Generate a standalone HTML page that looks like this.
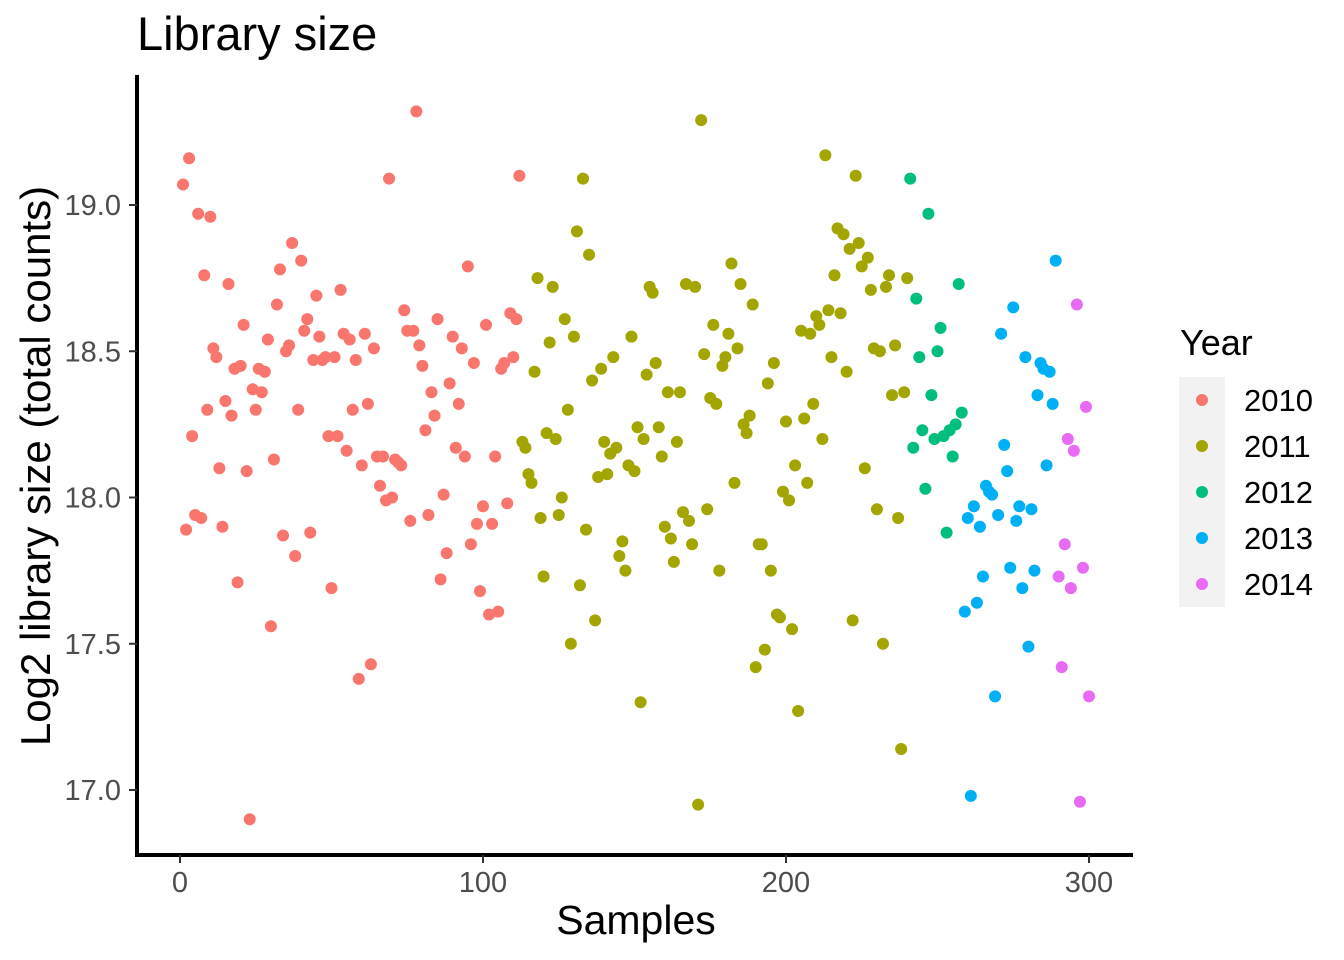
<!DOCTYPE html>
<html><head><meta charset="utf-8"><style>
html,body{margin:0;padding:0;background:#fff;}
svg{display:block;font-family:"Liberation Sans",Arial,sans-serif;}
</style></head><body>
<svg id="chart" width="1344" height="960" viewBox="0 0 1344 960">
<text x="137" y="50" font-size="47" fill="#000">Library size</text>
<g id="points"></g>
<g id="axes"></g>
<text transform="translate(50,466) rotate(-90)" text-anchor="middle" font-size="42" fill="#000">Log2 library size (total counts)</text>
<text x="636" y="934" text-anchor="middle" font-size="41" fill="#000">Samples</text>
<g id="legend">
<text x="1180" y="355" font-size="36" fill="#000">Year</text>
<rect x="1179" y="377" width="46" height="230" fill="#f2f2f2"/>
</g>
</svg>
<script>
const yearLabels = ["2010","2011","2012","2013","2014"];
const yearColors = ["#F8766D","#A3A500","#00BF7D","#00B0F6","#E76BF3"];
const yearEnds = [112,240,258,289,300];
const xTicks = [0,100,200,300];
const yTicks = [17.0,17.5,18.0,18.5,19.0];
const yTickLabels = ["17.0","17.5","18.0","18.5","19.0"];
const logSize = [
19.07,17.89,19.16,18.21,17.94,18.97,17.93,18.76,18.30,18.96,18.51,18.48,18.10,17.90,18.33,18.73,18.28,18.44,17.71,18.45,
18.59,18.09,16.90,18.37,18.30,18.44,18.36,18.43,18.54,17.56,18.13,18.66,18.78,17.87,18.50,18.52,18.87,17.80,18.30,18.81,
18.57,18.61,17.88,18.47,18.69,18.55,18.47,18.48,18.21,17.69,18.48,18.21,18.71,18.56,18.16,18.54,18.30,18.47,17.38,18.11,
18.56,18.32,17.43,18.51,18.14,18.04,18.14,17.99,19.09,18.00,18.13,18.12,18.11,18.64,18.57,17.92,18.57,19.32,18.52,18.45,
18.23,17.94,18.36,18.28,18.61,17.72,18.01,17.81,18.39,18.55,18.17,18.32,18.51,18.14,18.79,17.84,18.46,17.91,17.68,17.97,
18.59,17.60,17.91,18.14,17.61,18.44,18.46,17.98,18.63,18.48,18.61,19.10,
18.19,18.17,18.08,18.05,18.43,18.75,17.93,17.73,18.22,18.53,18.72,18.20,17.94,18.00,18.61,18.30,17.50,18.55,18.91,17.70,
19.09,17.89,18.83,18.40,17.58,18.07,18.44,18.19,18.08,18.15,18.48,18.17,17.80,17.85,17.75,18.11,18.55,18.09,18.24,17.30,
18.20,18.42,18.72,18.70,18.46,18.24,18.14,17.90,18.36,17.86,17.78,18.19,18.36,17.95,18.73,17.92,17.84,18.72,16.95,19.29,
18.49,17.96,18.34,18.59,18.32,17.75,18.45,18.48,18.56,18.80,18.05,18.51,18.73,18.25,18.22,18.28,18.66,17.42,17.84,17.84,
17.48,18.39,17.75,18.46,17.60,17.59,18.02,18.26,17.99,17.55,18.11,17.27,18.57,18.27,18.05,18.56,18.32,18.62,18.59,18.20,
19.17,18.64,18.48,18.76,18.92,18.63,18.90,18.43,18.85,17.58,19.10,18.87,18.79,18.10,18.82,18.71,18.51,17.96,18.50,17.50,
18.72,18.76,18.35,18.52,17.93,17.14,18.36,18.75,
19.09,18.17,18.68,18.48,18.23,18.03,18.97,18.35,18.20,18.50,18.58,18.21,17.88,18.23,18.14,18.25,18.73,18.29,
17.61,17.93,16.98,17.97,17.64,17.90,17.73,18.04,18.02,18.01,17.32,17.94,18.56,18.18,18.09,17.76,18.65,17.92,17.97,17.69,
18.48,17.49,17.96,17.75,18.35,18.46,18.44,18.11,18.43,18.32,18.81,
17.73,17.42,17.84,18.20,17.69,18.16,18.66,16.96,17.76,18.31,17.32
];
const NS="http://www.w3.org/2000/svg";
function xs(i){return 180+(i*(1089-180)/300);}
function ys(v){return 790-(v-17)*(790-205)/2;}
function mk(tag,attrs,parent){const e=document.createElementNS(NS,tag);for(const k in attrs)e.setAttribute(k,attrs[k]);parent.appendChild(e);return e;}
const pts=document.getElementById('points');
logSize.forEach((v,k)=>{
  const idx=k+1;
  let yi=0; while(idx>yearEnds[yi]) yi++;
  const c=mk('circle',{cx:xs(idx),cy:ys(v),r:6,fill:yearColors[yi]},pts);
  
  
});
const ax=document.getElementById('axes');
const yl=mk('line',{x1:137,y1:75,x2:137,y2:857,stroke:'#000','stroke-width':4},ax);


const xl=mk('line',{x1:135,y1:855,x2:1133,y2:855,stroke:'#000','stroke-width':4},ax);


yTicks.forEach((t,i)=>{
  const y=ys(t);
  const tk=mk('line',{x1:129,y1:y,x2:137,y2:y,stroke:'#333','stroke-width':2},ax);
  
  
  const tx=mk('text',{x:121,y:y+10,'text-anchor':'end','font-size':29,fill:'#4d4d4d'},ax);
  tx.textContent=yTickLabels[i];
  
  
});
xTicks.forEach(t=>{
  const x=xs(t);
  const tk=mk('line',{x1:x,y1:855,x2:x,y2:863,stroke:'#333','stroke-width':2},ax);
  
  
  const tx=mk('text',{x:x,y:892,'text-anchor':'middle','font-size':29,fill:'#4d4d4d'},ax);
  tx.textContent=String(t);
  
  
});
const lg=document.getElementById('legend');
yearLabels.forEach((lab,i)=>{
  const y=400+i*46;
  const c=mk('circle',{cx:1202,cy:y,r:6,fill:yearColors[i]},lg);
  
  
  const t=mk('text',{x:1244,y:y+11,'font-size':31,fill:'#000'},lg);
  t.textContent=lab;
  
  
});
</script>
</body></html>
